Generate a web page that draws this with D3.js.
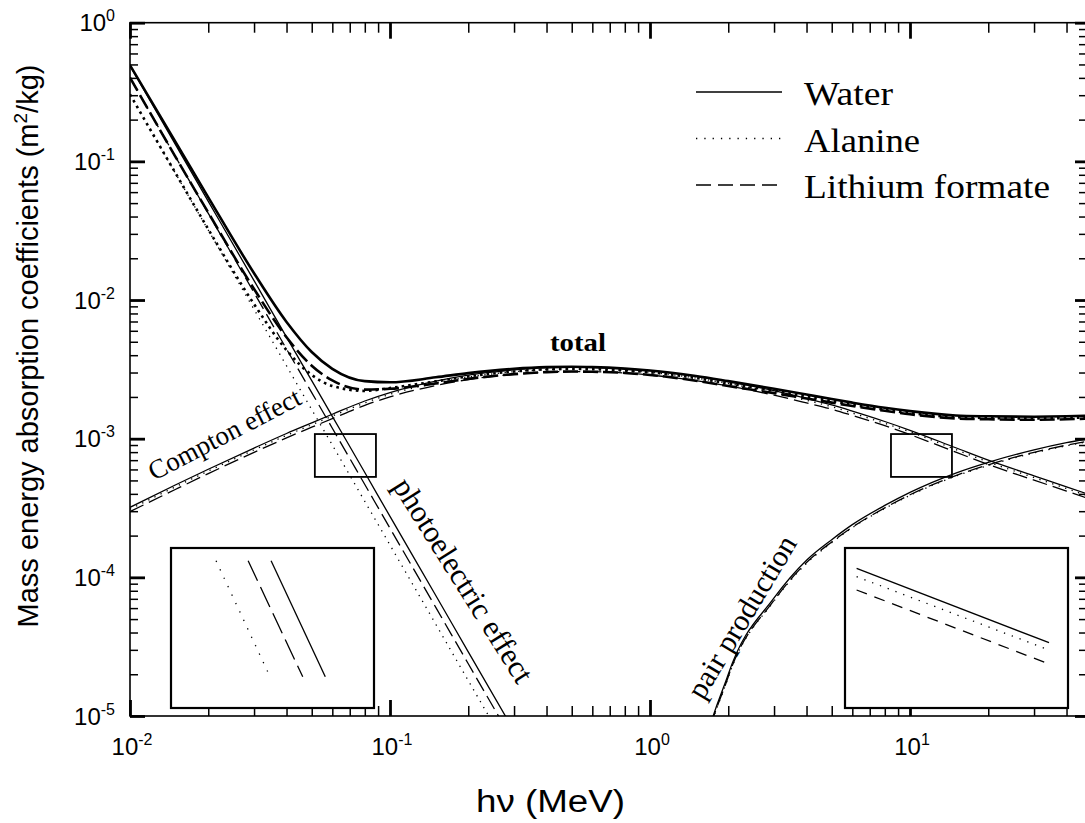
<!DOCTYPE html>
<html>
<head>
<meta charset="utf-8">
<script src="https://cdn.jsdelivr.net/npm/d3@7"></script>
<style>
body{margin:0;background:#fff;}
svg{display:block;}
</style>
</head>
<body>
<svg id="chart" width="1085" height="823"></svg>
<script>
// photon energy (MeV) and mass energy absorption coefficients (m2/kg)
const energy = [0.01, 0.015, 0.02, 0.03, 0.04, 0.05, 0.06, 0.08, 0.1, 0.15, 0.2, 0.3, 0.4, 0.5, 0.6, 0.8, 1, 1.5, 2, 3, 4, 5, 6, 8, 10, 15, 20, 30, 40, 50];

const waterTotal   = [0.494, 0.137, 0.055, 0.0156, 0.00695, 0.00422, 0.00319, 0.0026, 0.00255, 0.00277, 0.00297, 0.00319, 0.00328, 0.0033, 0.00328, 0.0032, 0.0031, 0.00283, 0.0026, 0.00229, 0.00208, 0.00193, 0.00182, 0.00167, 0.00158, 0.00147, 0.00145, 0.00144, 0.00145, 0.00147];
const alanineTotal = [0.304, 0.0816, 0.0324, 0.00934, 0.00435, 0.00288, 0.0024, 0.00221, 0.00232, 0.00259, 0.00281, 0.00305, 0.00316, 0.00318, 0.00317, 0.0031, 0.00301, 0.00274, 0.0025, 0.00222, 0.00201, 0.00187, 0.00176, 0.00162, 0.00153, 0.00143, 0.00141, 0.0014, 0.00141, 0.00143];
const lithiumTotal = [0.402, 0.107, 0.0427, 0.012, 0.00539, 0.00336, 0.00263, 0.00226, 0.00229, 0.0025, 0.0027, 0.00292, 0.00302, 0.00305, 0.00304, 0.00298, 0.00288, 0.00262, 0.0024, 0.00213, 0.00195, 0.00182, 0.00172, 0.00159, 0.0015, 0.0014, 0.00138, 0.00137, 0.00138, 0.0014];

const waterCompton   = [3.2e-4, 4.65e-4, 6.02e-4, 8.56e-4, 1.09e-3, 1.3e-3, 1.5e-3, 1.87e-3, 2.15e-3, 2.6e-3, 2.87e-3, 3.13e-3, 3.25e-3, 3.28e-3, 3.27e-3, 3.2e-3, 3.1e-3, 2.82e-3, 2.58e-3, 2.22e-3, 1.95e-3, 1.75e-3, 1.58e-3, 1.33e-3, 1.15e-3, 8.6e-4, 7.0e-4, 5.4e-4, 4.5e-4, 3.9e-4];
const alanineCompton = [3.1e-4, 4.51e-4, 5.84e-4, 8.3e-4, 1.057e-3, 1.26e-3, 1.455e-3, 1.81e-3, 2.09e-3, 2.52e-3, 2.78e-3, 3.04e-3, 3.15e-3, 3.18e-3, 3.17e-3, 3.1e-3, 3.01e-3, 2.74e-3, 2.5e-3, 2.15e-3, 1.89e-3, 1.7e-3, 1.53e-3, 1.29e-3, 1.12e-3, 8.34e-4, 6.79e-4, 5.24e-4, 4.37e-4, 3.78e-4];
const lithiumCompton = [2.98e-4, 4.32e-4, 5.6e-4, 7.96e-4, 1.014e-3, 1.21e-3, 1.395e-3, 1.74e-3, 2.0e-3, 2.42e-3, 2.67e-3, 2.91e-3, 3.02e-3, 3.05e-3, 3.04e-3, 2.98e-3, 2.88e-3, 2.62e-3, 2.4e-3, 2.06e-3, 1.81e-3, 1.63e-3, 1.47e-3, 1.24e-3, 1.07e-3, 8.0e-4, 6.51e-4, 5.02e-4, 4.19e-4, 3.63e-4];

const photoEnergy    = [0.01, 0.015, 0.02, 0.03, 0.04, 0.05, 0.06, 0.08, 0.1, 0.15, 0.2, 0.3];
const waterPhoto     = [0.49, 0.131, 0.0515, 0.0138, 0.0054, 0.00262, 0.00145, 5.7e-4, 2.75e-4, 7.4e-5, 2.9e-5, 7.8e-6];
const alaninePhoto   = [0.304, 0.0812, 0.0319, 0.00856, 0.00335, 0.00162, 9.0e-4, 3.53e-4, 1.71e-4, 4.59e-5, 1.8e-5, 4.84e-6];
const lithiumPhoto   = [0.402, 0.107, 0.0422, 0.0113, 0.00443, 0.00215, 0.00119, 4.67e-4, 2.26e-4, 6.07e-5, 2.38e-5, 6.4e-6];

const pairEnergy     = [1.25, 1.5, 2, 3, 4, 5, 6, 8, 10, 15, 20, 30, 40, 50];
const waterPair      = [1e-7, 2.5e-6, 2.0e-5, 7.1e-5, 1.33e-4, 1.87e-4, 2.4e-4, 3.3e-4, 4.1e-4, 5.65e-4, 6.75e-4, 8.3e-4, 9.35e-4, 1.01e-3];
const alaninePair    = [9.5e-8, 2.38e-6, 1.9e-5, 6.75e-5, 1.26e-4, 1.78e-4, 2.28e-4, 3.14e-4, 3.9e-4, 5.37e-4, 6.41e-4, 7.89e-4, 8.88e-4, 9.6e-4];
const lithiumPair    = [9.6e-8, 2.4e-6, 1.92e-5, 6.82e-5, 1.28e-4, 1.8e-4, 2.3e-4, 3.17e-4, 3.94e-4, 5.42e-4, 6.48e-4, 7.97e-4, 8.98e-4, 9.7e-4];

// zoom boxes (energy range, coefficient range)
const zoomBoxEnergy = [[0.0514, 0.0883], [8.45, 14.5]];
const zoomBoxValue  = [5.3e-4, 1.08e-3];

// inset segments, in inset units (0..1), order: water, alanine, lithium formate
const leftInsetX0  = [0.493, 0.222, 0.38];
const leftInsetX1  = [0.76, 0.488, 0.649];
const leftInsetY   = [0.08, 0.805];
const rightInsetX  = [0.052, 0.915];
const rightInsetY0 = [0.127, 0.179, 0.2625];
const rightInsetY1 = [0.592, 0.6375, 0.725];

const xMajor = [0.01, 0.1, 1, 10];
const xExp = ["-2", "-1", "0", "1"];
const yMajor = [1, 0.1, 0.01, 0.001, 1e-4, 1e-5];
const yExp = ["0", "-1", "-2", "-3", "-4", "-5"];

const legendNames = ["Water", "Alanine", "Lithium formate"];
const legendWidths = [89, 116, 246];

const sans = "'Liberation Sans', Arial, sans-serif";
const serif = "'Liberation Serif', 'Times New Roman', serif";

const svg = d3.select("#chart");
const pLeft = 130, pRight = 1087, pTop = 22.7, pBottom = 716;

// the right end of the frame sits just past the picture edge
const x = d3.scaleLog().domain([0.01, 47.95]).range([pLeft, pRight]);
const y = d3.scaleLog().domain([1e-5, 1]).range([pBottom, pTop]);

svg.append("defs").append("clipPath").attr("id", "plotclip")
  .append("rect").attr("x", pLeft).attr("y", pTop).attr("width", pRight - pLeft).attr("height", pBottom - pTop);

const plot = svg.append("g").attr("clip-path", "url(#plotclip)");

const line = d3.line().x(d => x(d[0])).y(d => y(d[1])).curve(d3.curveMonotoneX);
function pairs(es, vs) { return es.map((e, i) => [e, vs[i]]); }

const thinDash = ["none", "1.3,5.5", "15,6"];
const thickDash = ["none", "2.6,4", "15,5"];

function drawSet(es, sets, width, dashes) {
  sets.forEach((vs, i) => {
    plot.append("path")
      .attr("d", line(pairs(es, vs)))
      .attr("fill", "none")
      .attr("stroke", "#000")
      .attr("stroke-width", width)
      .attr("stroke-dasharray", dashes[i]);
  });
}

drawSet(photoEnergy, [waterPhoto, alaninePhoto, lithiumPhoto], 1.3, thinDash);
drawSet(energy, [waterCompton, alanineCompton, lithiumCompton], 1.3, thinDash);
drawSet(pairEnergy, [waterPair, alaninePair, lithiumPair], 1.3, thinDash);
drawSet(energy, [waterTotal, alanineTotal, lithiumTotal], 2.6, thickDash);

// little boxes marking the zoomed parts
zoomBoxEnergy.forEach(b => {
  plot.append("rect")
    .attr("x", x(b[0])).attr("y", y(zoomBoxValue[1]))
    .attr("width", x(b[1]) - x(b[0])).attr("height", y(zoomBoxValue[0]) - y(zoomBoxValue[1]))
    .attr("fill", "none").attr("stroke", "#000").attr("stroke-width", 1.8);
});

// axes: minor and major ticks pointing inwards
const xMinor = [], yMinor = [];
[0.01, 0.1, 1, 10].forEach(d => { for (let k = 2; k <= 9; k++) if (d * k < 47) xMinor.push(d * k); });
[1e-5, 1e-4, 1e-3, 0.01, 0.1].forEach(d => { for (let k = 2; k <= 9; k++) yMinor.push(d * k); });

const axes = svg.append("g");
function ticks(gen, pos, vals, size, width) {
  const g = axes.append("g").attr("transform", pos)
    .call(gen.tickValues(vals).tickSize(-size).tickSizeOuter(0).tickFormat(""));
  g.select(".domain").remove();
  g.selectAll(".tick line").attr("stroke-width", width);
}
ticks(d3.axisBottom(x), `translate(0,${pBottom})`, xMinor, 10, 1.5);
ticks(d3.axisBottom(x), `translate(0,${pBottom})`, xMajor, 16, 2.8);
ticks(d3.axisTop(x), `translate(0,${pTop})`, xMinor, 10, 1.5);
ticks(d3.axisTop(x), `translate(0,${pTop})`, xMajor, 16, 2.8);
ticks(d3.axisLeft(y), `translate(${pLeft},0)`, yMinor, 8, 1.5);
ticks(d3.axisLeft(y), `translate(${pLeft},0)`, yMajor, 15, 2.8);
ticks(d3.axisRight(y), `translate(${pRight},0)`, yMinor, 8, 1.5);
ticks(d3.axisRight(y), `translate(${pRight},0)`, yMajor, 12, 2.8);

axes.append("rect").attr("x", pLeft).attr("y", pTop)
  .attr("width", pRight - pLeft).attr("height", pBottom - pTop)
  .attr("fill", "none").attr("stroke", "#000").attr("stroke-width", 1.6);

// tick labels with superscripts
xMajor.forEach((v, i) => {
  const t = svg.append("text").attr("x", x(v) + 2).attr("y", 755)
    .attr("text-anchor", "middle").attr("font-family", sans).attr("font-size", 24);
  t.append("tspan").text("10");
  t.append("tspan").attr("dy", -10).attr("font-size", 16).text(xExp[i]);
});
yMajor.forEach((v, i) => {
  const t = svg.append("text").attr("x", 115).attr("y", y(v) + 8.5)
    .attr("text-anchor", "end").attr("font-family", sans).attr("font-size", 24);
  t.append("tspan").text("10");
  t.append("tspan").attr("dy", -10).attr("font-size", 16).text(yExp[i]);
});

// axis titles
const yt = svg.append("text").attr("transform", "translate(38,346) rotate(-90)")
  .attr("text-anchor", "middle").attr("font-family", sans).attr("font-size", 29);
yt.append("tspan").text("Mass energy absorption coefficients (m");
yt.append("tspan").attr("dy", -11).attr("font-size", 19).text("2");
yt.append("tspan").attr("dy", 11).text("/kg)");

svg.append("text").attr("x", 476).attr("y", 812)
  .attr("font-family", sans).attr("font-size", 31)
  .attr("textLength", 149).attr("lengthAdjust", "spacingAndGlyphs").text("h\u03bd (MeV)");

// curve labels
svg.append("text").attr("x", 550).attr("y", 351).attr("font-family", serif)
  .attr("font-weight", "bold").attr("font-size", 26)
  .attr("textLength", 56).attr("lengthAdjust", "spacingAndGlyphs").text("total");
svg.append("text").attr("transform", "translate(154,481) rotate(-27.5)")
  .attr("font-family", serif).attr("font-size", 27).text("Compton effect");
svg.append("text").attr("transform", "translate(392,486) rotate(57.8)")
  .attr("font-family", serif).attr("font-size", 30.5).text("photoelectric effect");
svg.append("text").attr("transform", "translate(703,701) rotate(-59)")
  .attr("font-family", serif).attr("font-size", 30).text("pair production");

// legend
const legendDash = ["none", "1.3,7", "15,7"];
legendNames.forEach((n, i) => {
  const ly = 92 + i * 46.5;
  svg.append("line").attr("x1", 696).attr("x2", 782).attr("y1", ly).attr("y2", ly)
    .attr("stroke", "#000").attr("stroke-width", 1.6).attr("stroke-dasharray", legendDash[i]);
  svg.append("text").attr("x", 804).attr("y", ly + 13).attr("font-family", serif)
    .attr("font-size", 33).attr("textLength", legendWidths[i])
    .attr("lengthAdjust", "spacingAndGlyphs").text(n);
});

// insets
const leftBox = {x: 171, y: 548, w: 203, h: 160};
const rightBox = {x: 845, y: 548, w: 223, h: 160};
function insetFrame(b) {
  svg.append("rect").attr("x", b.x).attr("y", b.y).attr("width", b.w).attr("height", b.h)
    .attr("fill", "#fff").attr("stroke", "#000").attr("stroke-width", 2.2);
  return [d3.scaleLinear().range([b.x, b.x + b.w]), d3.scaleLinear().range([b.y, b.y + b.h])];
}
const [lx, ly] = insetFrame(leftBox);
const leftDash = ["none", "1.3,8", "22,7"];
leftInsetX0.forEach((v, i) => {
  svg.append("line").attr("x1", lx(v)).attr("x2", lx(leftInsetX1[i]))
    .attr("y1", ly(leftInsetY[0])).attr("y2", ly(leftInsetY[1]))
    .attr("stroke", "#000").attr("stroke-width", 1.3).attr("stroke-dasharray", leftDash[i]);
});
const [rx, ry] = insetFrame(rightBox);
const rightDash = ["none", "1.3,7", "11,8"];
rightInsetY0.forEach((v, i) => {
  svg.append("line").attr("x1", rx(rightInsetX[0])).attr("x2", rx(rightInsetX[1]))
    .attr("y1", ry(v)).attr("y2", ry(rightInsetY1[i]))
    .attr("stroke", "#000").attr("stroke-width", 1.3).attr("stroke-dasharray", rightDash[i]);
});
</script>
</body>
</html>
